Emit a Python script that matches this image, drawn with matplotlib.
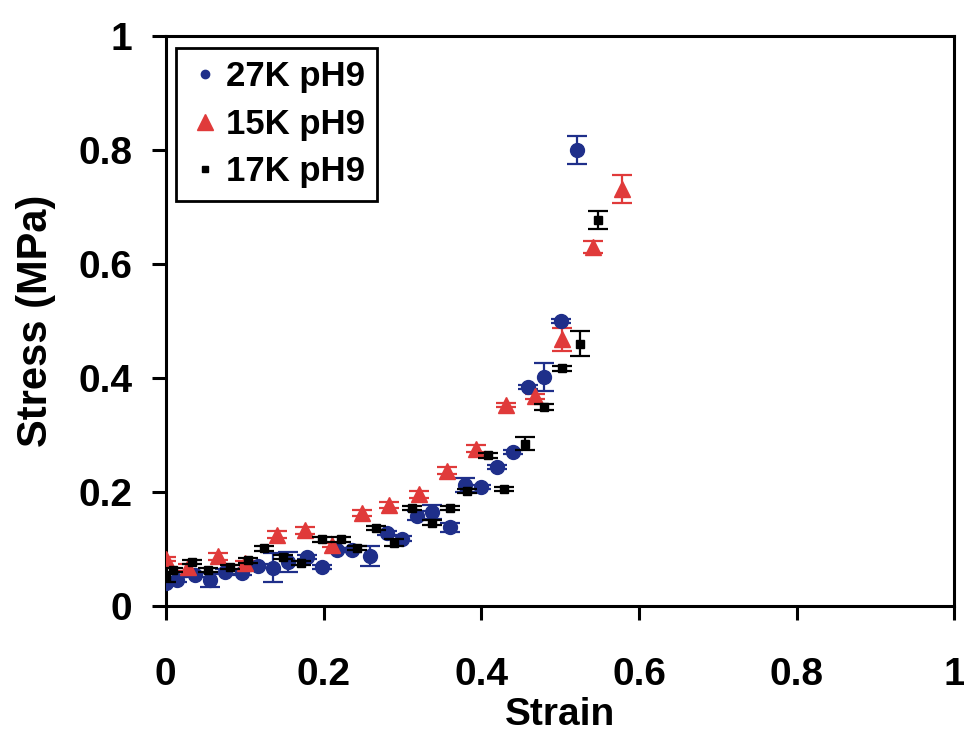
import numpy as np
import matplotlib
matplotlib.use("Agg")
import matplotlib.pyplot as plt
from matplotlib.lines import Line2D

# ── data ─────────────────────────────────────────────────────
strain_27k = [0.0, 0.014, 0.037, 0.056, 0.075, 0.096, 0.117, 0.136, 0.155, 0.179,
              0.198, 0.217, 0.236, 0.259, 0.280, 0.300, 0.319, 0.338, 0.361, 0.380,
              0.400, 0.420, 0.440, 0.459, 0.479, 0.501, 0.521]
stress_27k = [0.040, 0.046, 0.054, 0.046, 0.060, 0.058, 0.070, 0.067, 0.077, 0.086,
              0.068, 0.098, 0.098, 0.088, 0.128, 0.118, 0.158, 0.165, 0.138, 0.212,
              0.209, 0.244, 0.270, 0.384, 0.402, 0.500, 0.800]
err_27k = [0.004, 0.004, 0.004, 0.012, 0.004, 0.004, 0.004, 0.025, 0.018, 0.004,
           0.004, 0.004, 0.004, 0.018, 0.004, 0.004, 0.008, 0.012, 0.008, 0.012,
           0.004, 0.004, 0.004, 0.004, 0.025, 0.004, 0.025]

strain_15k = [0.0, 0.028, 0.066, 0.100, 0.141, 0.176, 0.211, 0.249, 0.283, 0.321,
              0.357, 0.394, 0.432, 0.468, 0.503, 0.542, 0.578]
stress_15k = [0.082, 0.068, 0.087, 0.075, 0.125, 0.133, 0.107, 0.163, 0.177, 0.196,
              0.237, 0.276, 0.353, 0.368, 0.468, 0.630, 0.732]
err_15k = [0.004, 0.006, 0.006, 0.004, 0.006, 0.006, 0.004, 0.006, 0.006, 0.006,
           0.006, 0.006, 0.004, 0.004, 0.020, 0.010, 0.025]

strain_17k = [0.0, 0.009, 0.033, 0.053, 0.081, 0.104, 0.125, 0.148, 0.172, 0.198,
              0.222, 0.243, 0.266, 0.290, 0.312, 0.338, 0.360, 0.382, 0.408, 0.429,
              0.455, 0.479, 0.503, 0.525, 0.548]
stress_17k = [0.050, 0.063, 0.077, 0.063, 0.068, 0.080, 0.101, 0.086, 0.075, 0.117,
              0.117, 0.102, 0.137, 0.111, 0.172, 0.146, 0.172, 0.202, 0.264, 0.205,
              0.285, 0.349, 0.417, 0.460, 0.677]
err_17k = [0.008, 0.004, 0.004, 0.004, 0.004, 0.004, 0.004, 0.004, 0.004, 0.004,
           0.004, 0.004, 0.004, 0.006, 0.004, 0.004, 0.004, 0.004, 0.004, 0.004,
           0.012, 0.006, 0.004, 0.022, 0.016]

labels = ['27K pH9', '15K pH9', '17K pH9']
ticks = [0, 0.2, 0.4, 0.6, 0.8, 1]
tick_labels = ['0', '0.2', '0.4', '0.6', '0.8', '1']

# ── plot ─────────────────────────────────────────────────────
plt.rcParams['font.family'] = ['Liberation Sans', 'DejaVu Sans']
plt.rcParams['font.weight'] = 'bold'

fig = plt.figure(figsize=(9.64, 7.38), dpi=100)
ax = fig.add_axes([0.172, 0.179, 0.818, 0.772])

blue = '#1f2f8a'
red = '#e03a3a'

ax.errorbar(strain_27k, stress_27k, yerr=err_27k, fmt='o', color=blue,
            ms=10, capsize=7, elinewidth=1.6, capthick=1.6, zorder=3)
ax.errorbar(strain_15k, stress_15k, yerr=err_15k, fmt='^', color=red,
            ms=11, capsize=7, elinewidth=1.6, capthick=1.6, zorder=3)
ax.errorbar(strain_17k, stress_17k, yerr=err_17k, fmt='s', color='black',
            ms=6, capsize=7, elinewidth=1.6, capthick=1.6, zorder=4)

ax.set_xlim(0, 1)
ax.set_ylim(0, 1)
ax.set_xticks(ticks)
ax.set_xticklabels(tick_labels)
ax.set_yticks(ticks)
ax.set_yticklabels(tick_labels)

for s in ax.spines.values():
    s.set_linewidth(2.2)
ax.tick_params(direction='out', length=10, width=2.2, labelsize=28)
ax.tick_params(axis='x', pad=27)
ax.tick_params(axis='y', pad=14)

ax.set_xlabel('Strain', fontsize=28, fontweight='bold', labelpad=3)
ax.set_ylabel('Stress (MPa)', fontsize=30, fontweight='bold', labelpad=16)

# legend shows markers only, no error bars
handles = [
    Line2D([], [], ls='none', marker='o', color=blue, ms=6),
    Line2D([], [], ls='none', marker='^', color=red, ms=11),
    Line2D([], [], ls='none', marker='s', color='black', ms=5),
]
leg = ax.legend(handles, labels, loc='upper left', bbox_to_anchor=(0.008, 0.985),
                fontsize=25, handletextpad=0.1, handlelength=1.0,
                borderpad=0.35, labelspacing=0.42, borderaxespad=0.1,
                fancybox=False, framealpha=1)
leg.get_frame().set_edgecolor('black')
leg.get_frame().set_linewidth(2)

plt.savefig('out.png', dpi=100)
